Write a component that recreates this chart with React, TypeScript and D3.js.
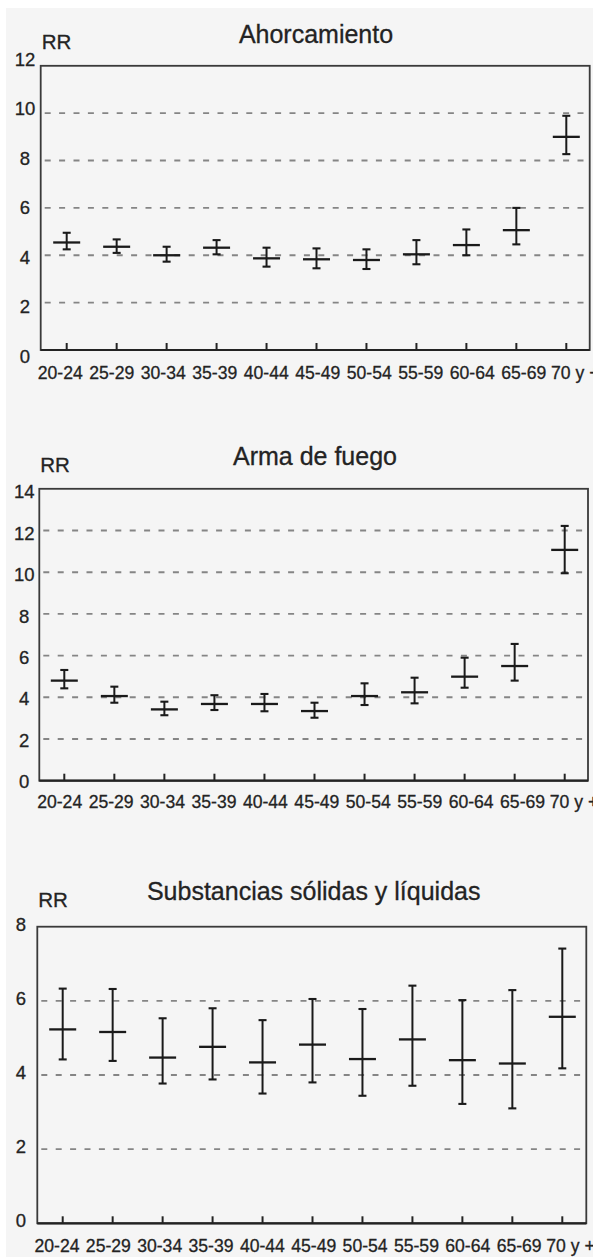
import React from 'react';
import * as d3 from 'd3';

const W = 593;
const H = 1257;
const ink = '#232323';
const gridColor = '#858585';
const paper = '#f5f5f5';
const font = '"Liberation Sans", Arial, Helvetica, sans-serif';

const ageGroups = ['20-24', '25-29', '30-34', '35-39', '40-44', '45-49', '50-54', '55-59', '60-64', '65-69', '70 y +'];

// Ahorcamiento
const hangingRR = [4.54, 4.36, 4.0, 4.32, 3.87, 3.83, 3.8, 4.04, 4.43, 5.06, 9.0];
const hangingLow = [4.25, 4.1, 3.73, 4.04, 3.52, 3.45, 3.42, 3.62, 4.0, 4.46, 8.27];
const hangingHigh = [4.95, 4.67, 4.36, 4.64, 4.32, 4.29, 4.25, 4.64, 5.09, 6.0, 9.89];

// Arma de fuego
const firearmRR = [4.8, 4.06, 3.42, 3.68, 3.68, 3.34, 4.06, 4.24, 4.99, 5.5, 11.07];
const firearmLow = [4.43, 3.74, 3.14, 3.39, 3.33, 3.02, 3.63, 3.71, 4.46, 4.8, 9.95];
const firearmHigh = [5.31, 4.51, 3.79, 4.1, 4.16, 3.74, 4.67, 4.94, 5.9, 6.56, 12.22];

// Substancias sólidas y líquidas
const poisonRR = [5.23, 5.16, 4.47, 4.76, 4.34, 4.82, 4.43, 4.96, 4.4, 4.31, 5.57];
const poisonLow = [4.42, 4.38, 3.77, 3.88, 3.5, 3.8, 3.44, 3.71, 3.22, 3.1, 4.18];
const poisonHigh = [6.33, 6.32, 5.53, 5.8, 5.48, 6.05, 5.78, 6.41, 6.02, 6.29, 7.41];

type Layout = {
  left: number;
  right: number;
  top: number;
  bottom: number;
  xRange: [number, number];
  catRange: [number, number];
  catDy: number;
  yLabRange: [number, number];
  yLabX: number;
  rrY: number;
  titleX: number;
  titleY: number;
};

type PanelProps = {
  title: string;
  rr: number[];
  low: number[];
  high: number[];
  max: number;
  layout: Layout;
};

// scanned text looks heavier than a plain font, a thin stroke helps
const textStyle = { fill: ink, stroke: ink, strokeWidth: 0.3, fontFamily: font };

function Panel({ title, rr, low, high, max, layout }: PanelProps) {
  const L = layout;
  const x = d3.scalePoint<string>().domain(ageGroups).range(L.xRange);
  const xLab = d3.scalePoint<string>().domain(ageGroups).range(L.catRange);
  const y = d3.scaleLinear().domain([0, max]).range([L.bottom, L.top]);
  const yLab = d3.scaleLinear().domain([0, max]).range(L.yLabRange);
  const ticks = y.ticks(max / 2);
  const grid = ticks.filter((t) => t > 0 && t < max);
  const capW = 4;
  const barW = 13.5;

  return (
    <g>
      <text x={L.titleX} y={L.titleY} textAnchor="middle" fontSize={25} {...textStyle}>
        {title}
      </text>
      <text x={L.left + 1} y={L.rrY} fontSize={20.5} {...textStyle}>
        RR
      </text>

      {grid.map((t) => (
        <line
          key={'g' + t}
          x1={L.left + 4}
          x2={L.right}
          y1={y(t)}
          y2={y(t)}
          stroke={gridColor}
          strokeWidth={1.9}
          strokeDasharray="6 8.4"
        />
      ))}

      <rect
        x={L.left}
        y={L.top}
        width={L.right - L.left}
        height={L.bottom - L.top}
        fill="none"
        stroke="#3a3a3a"
        strokeWidth={1.8}
      />
      <line x1={L.left} x2={L.right} y1={L.bottom} y2={L.bottom} stroke={ink} strokeWidth={2.2} />

      {ticks.map((t) => (
        <text key={'yl' + t} x={L.yLabX} y={yLab(t) + 6.6} textAnchor="middle" fontSize={18.5} {...textStyle}>
          {t}
        </text>
      ))}

      {ageGroups.map((g) => (
        <g key={g}>
          <line x1={x(g)} x2={x(g)} y1={L.bottom} y2={L.bottom - 7} stroke={ink} strokeWidth={2} />
          <text x={xLab(g)} y={L.bottom + L.catDy} textAnchor="middle" fontSize={17.6} {...textStyle}>
            {g}
          </text>
        </g>
      ))}

      {ageGroups.map((g, i) => {
        const cx = x(g) as number;
        return (
          <g key={'e' + g} stroke="#1a1a1a" fill="none">
            <line x1={cx} x2={cx} y1={y(low[i])} y2={y(high[i])} strokeWidth={2} />
            <line x1={cx - capW} x2={cx + capW} y1={y(high[i])} y2={y(high[i])} strokeWidth={2.1} />
            <line x1={cx - capW} x2={cx + capW} y1={y(low[i])} y2={y(low[i])} strokeWidth={2.1} />
            <line x1={cx - barW} x2={cx + barW} y1={y(rr[i])} y2={y(rr[i])} strokeWidth={2.3} />
          </g>
        );
      })}
    </g>
  );
}

const layouts: Layout[] = [
  {
    left: 40.7, right: 589.7, top: 65.8, bottom: 350,
    xRange: [66.7, 566.3], catRange: [60.3, 575.3], catDy: 29.3,
    yLabRange: [356, 59.3], yLabX: 25, rrY: 49.3, titleX: 316, titleY: 42.7,
  },
  {
    left: 39.3, right: 588, top: 488.8, bottom: 780.7,
    xRange: [64.3, 564.7], catRange: [59.7, 574], catDy: 27.6,
    yLabRange: [781.7, 491.7], yLabX: 24.2, rrY: 472.3, titleX: 315, titleY: 465,
  },
  {
    left: 37.3, right: 586.3, top: 926.7, bottom: 1223.3,
    xRange: [62.7, 562.3], catRange: [57, 570.5], catDy: 28.8,
    yLabRange: [1220, 924.3], yLabX: 21, rrY: 907, titleX: 313.7, titleY: 900,
  },
];

export default function App() {
  return (
    <svg
      width={W}
      height={H}
      viewBox={`0 0 ${W} ${H}`}
      style={{ position: 'absolute', left: 0, top: 0, display: 'block', background: '#ffffff' }}
    >
      <rect x={6} y={8} width={W - 6} height={H - 8} fill={paper} />
      <Panel title="Ahorcamiento" rr={hangingRR} low={hangingLow} high={hangingHigh} max={12} layout={layouts[0]} />
      <Panel title="Arma de fuego" rr={firearmRR} low={firearmLow} high={firearmHigh} max={14} layout={layouts[1]} />
      <Panel
        title="Substancias sólidas y líquidas"
        rr={poisonRR}
        low={poisonLow}
        high={poisonHigh}
        max={8}
        layout={layouts[2]}
      />
    </svg>
  );
}
